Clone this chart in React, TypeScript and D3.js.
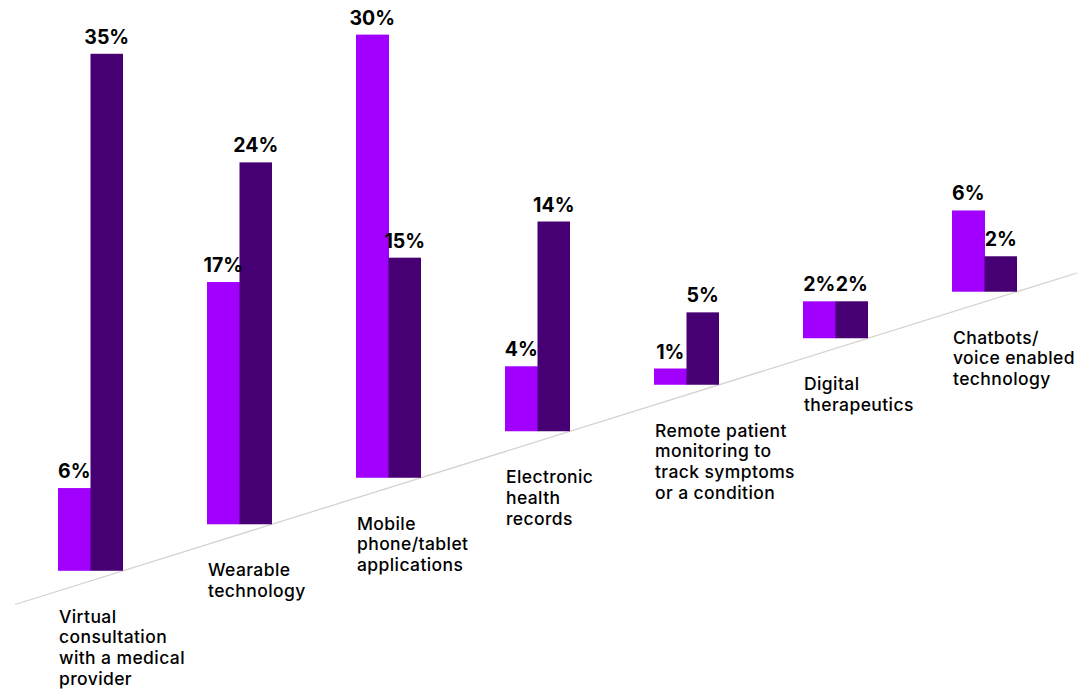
import React from "react";
import * as d3 from "d3";

const categories: string[][] = [
  ["Virtual", "consultation", "with a medical", "provider"],
  ["Wearable", "technology"],
  ["Mobile", "phone/tablet", "applications"],
  ["Electronic", "health", "records"],
  ["Remote patient", "monitoring to", "track symptoms", "or a condition"],
  ["Digital", "therapeutics"],
  ["Chatbots/", "voice enabled", "technology"],
];
const seriesA: number[] = [5.6, 16.4, 30, 4.4, 1.1, 2.5, 5.5];
const seriesB: number[] = [35, 24.5, 14.9, 14.2, 4.9, 2.5, 2.4];
const labelsA: string[] = ["6%", "17%", "30%", "4%", "1%", "2%", "6%"];
const labelsB: string[] = ["35%", "24%", "15%", "14%", "5%", "2%", "2%"];

const W = 1078;
const H = 689;
const COLOR_A = "#a100ff";
const COLOR_B = "#460073";

export default function App() {
  const idx = categories.map((_, i) => String(i));
  const x = d3.scaleBand<string>().domain(idx).range([58, 58 + 7 * 149]).paddingInner(0).paddingOuter(0);
  const barW = 32.5;
  const h = d3.scaleLinear().domain([0, 35]).range([0, 517]);
  const base = d3.scaleLinear().domain([15, 1077]).range([604.5, 273]);

  return (
    <svg width={W} height={H} style={{ position: "absolute", left: 0, top: 0 }}
      fontFamily="Inter, 'Noto Sans', sans-serif">
      <line x1={15} y1={base(15)} x2={1077} y2={base(1077)} stroke="#d6d2ce" strokeWidth={1.3} />
      {idx.map((k, i) => {
        const x0 = x(k)!;
        const bottom = base(x0 + 2 * barW);
        const hA = h(seriesA[i]);
        const hB = h(seriesB[i]);
        return (
          <g key={k}>
            <rect x={x0} y={bottom - hA} width={barW + 0.5} height={hA} fill={COLOR_A} />
            <rect x={x0 + barW} y={bottom - hB} width={barW} height={hB} fill={COLOR_B} />
            <text x={x0 + barW / 2} y={bottom - hA - 10} textAnchor="middle" fontSize={19.5} fontWeight={700} fill="#000">{labelsA[i]}</text>
            <text x={x0 + barW * 1.5} y={bottom - hB - 10} textAnchor="middle" fontSize={19.5} fontWeight={700} fill="#000">{labelsB[i]}</text>
            <text x={x0 + 1} y={bottom + 52} fontSize={17.5} fontWeight={500} letterSpacing={0.4} fill="#000">
              {categories[i].map((line, j) => (
                <tspan key={j} x={x0 + 1} dy={j === 0 ? 0 : 20.7}>{line}</tspan>
              ))}
            </text>
          </g>
        );
      })}
    </svg>
  );
}
